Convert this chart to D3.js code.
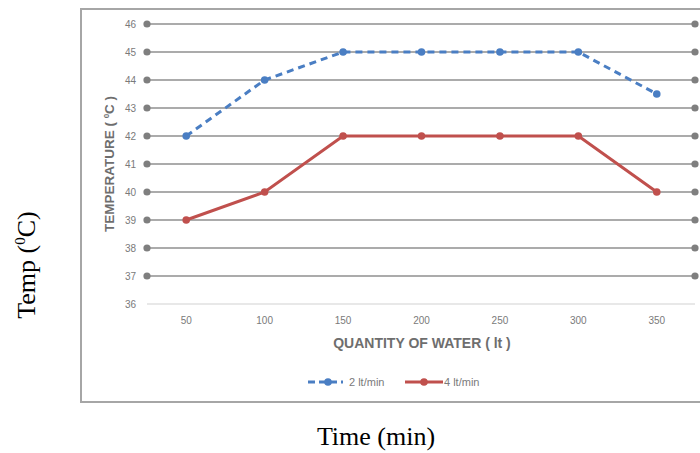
<!DOCTYPE html>
<html>
<head>
<meta charset="utf-8">
<script src="https://cdn.jsdelivr.net/npm/d3@7"></script>
<style>
  body { margin: 0; background: #fff; }
  svg { display: block; }
</style>
</head>
<body>
<svg id="chart" width="700" height="453"></svg>
<script>
// data
var quantities = [50, 100, 150, 200, 250, 300, 350];
var flow2 = [42, 44, 45, 45, 45, 45, 43.5];
var flow4 = [39, 40, 42, 42, 42, 42, 40];
var yTicks = [36, 37, 38, 39, 40, 41, 42, 43, 44, 45, 46];
var seriesNames = ["2 lt/min", "4 lt/min"];

var svg = d3.select("#chart");

// plot area ("top" is taken by window.top, so use other names)
var plotLeft = 147, plotRight = 696, plotTop = 24, plotBottom = 304;

var x = d3.scaleBand()
  .domain(quantities)
  .range([plotLeft, plotRight]);

var y = d3.scaleLinear()
  .domain([36, 46])
  .range([plotBottom, plotTop]);

// outer frame (top, left, bottom)
svg.append("path")
  .attr("d", "M700,9 H81 V402 H700")
  .attr("fill", "none")
  .attr("stroke", "#a6a6a6")
  .attr("stroke-width", 2);

// gridlines
var grid = svg.append("g");
grid.selectAll("line")
  .data(yTicks)
  .enter().append("line")
  .attr("x1", plotLeft)
  .attr("x2", plotRight - 1)
  .attr("y1", function(d) { return y(d); })
  .attr("y2", function(d) { return y(d); })
  .attr("stroke", function(d) { return d == 36 ? "#e0e0e0" : "#8f8f8f"; })
  .attr("stroke-width", 1.5);

// dots at both ends of gridlines (not on the base line)
var dotTicks = yTicks.filter(function(d) { return d != 36; });
[plotLeft, plotRight - 1].forEach(function(px) {
  grid.selectAll(null)
    .data(dotTicks)
    .enter().append("circle")
    .attr("cx", px)
    .attr("cy", function(d) { return y(d); })
    .attr("r", 3.6)
    .attr("fill", "#7f7f7f");
});

// y tick labels
svg.append("g").selectAll("text")
  .data(yTicks)
  .enter().append("text")
  .attr("x", 136)
  .attr("y", function(d) { return y(d); })
  .attr("dy", "0.35em")
  .attr("text-anchor", "end")
  .attr("font-family", "Liberation Sans, Arial, sans-serif")
  .attr("font-size", 10)
  .attr("fill", "#7a7a7a")
  .text(function(d) { return d; });

// x tick labels
svg.append("g").selectAll("text")
  .data(quantities)
  .enter().append("text")
  .attr("x", function(d) { return x(d) + x.bandwidth() / 2; })
  .attr("y", 324)
  .attr("text-anchor", "middle")
  .attr("font-family", "Liberation Sans, Arial, sans-serif")
  .attr("font-size", 10)
  .attr("fill", "#7a7a7a")
  .text(function(d) { return d; });

// axis titles
svg.append("text")
  .attr("x", 422)
  .attr("y", 348)
  .attr("text-anchor", "middle")
  .attr("font-family", "Liberation Sans, Arial, sans-serif")
  .attr("font-size", 14)
  .attr("font-weight", "bold")
  .attr("fill", "#6e6e6e")
  .text("QUANTITY OF WATER ( lt )");

var yt = svg.append("text")
  .attr("transform", "translate(114,164) rotate(-90)")
  .attr("text-anchor", "middle")
  .attr("font-family", "Liberation Sans, Arial, sans-serif")
  .attr("font-size", 13.5)
  .attr("font-weight", "bold")
  .attr("fill", "#6e6e6e");
yt.append("tspan").text("TEMPERATURE ( ");
yt.append("tspan").attr("font-size", 8).attr("dy", -5).text("0");
yt.append("tspan").attr("dy", 5).text("C )");

// series
var cx = function(d, i) { return x(quantities[i]) + x.bandwidth() / 2; };
var line = d3.line()
  .x(cx)
  .y(function(d) { return y(d); });

var series = [
  { name: seriesNames[0], values: flow2, color: "#4a7ec3", dash: "7,5" },
  { name: seriesNames[1], values: flow4, color: "#c0504d", dash: null }
];

series.forEach(function(s) {
  svg.append("path")
    .datum(s.values)
    .attr("d", line)
    .attr("fill", "none")
    .attr("stroke", s.color)
    .attr("stroke-width", 3)
    .attr("stroke-dasharray", s.dash);
  svg.append("g").selectAll("circle")
    .data(s.values)
    .enter().append("circle")
    .attr("cx", cx)
    .attr("cy", function(d) { return y(d); })
    .attr("r", 3.8)
    .attr("fill", s.color);
});

// legend
var legendX = [308, 405];
series.forEach(function(s, i) {
  var g = svg.append("g").attr("transform", "translate(" + legendX[i] + ",382)");
  g.append("line")
    .attr("x1", 0).attr("x2", i == 0 ? 35 : 38)
    .attr("stroke", s.color)
    .attr("stroke-width", 3)
    .attr("stroke-dasharray", s.dash ? "7,4" : null);
  g.append("circle")
    .attr("cx", i == 0 ? 20 : 19)
    .attr("r", 3.8)
    .attr("fill", s.color);
  g.append("text")
    .attr("x", i == 0 ? 41 : 39)
    .attr("dy", "0.35em")
    .attr("font-family", "Liberation Sans, Arial, sans-serif")
    .attr("font-size", 11)
    .attr("fill", "#7a7a7a")
    .text(s.name);
});

// outer labels (Times)
var tl = svg.append("text")
  .attr("transform", "translate(35,265) rotate(-90)")
  .attr("text-anchor", "middle")
  .attr("font-family", "Liberation Serif, Times New Roman, serif")
  .attr("font-size", 26)
  .attr("fill", "#000");
tl.append("tspan").text("Temp (");
tl.append("tspan").attr("font-size", 15).attr("dy", -10).text("0");
tl.append("tspan").attr("dy", 10).text("C)");

svg.append("text")
  .attr("x", 376)
  .attr("y", 445)
  .attr("text-anchor", "middle")
  .attr("font-family", "Liberation Serif, Times New Roman, serif")
  .attr("font-size", 26)
  .attr("fill", "#000")
  .text("Time (min)");
</script>
</body>
</html>
